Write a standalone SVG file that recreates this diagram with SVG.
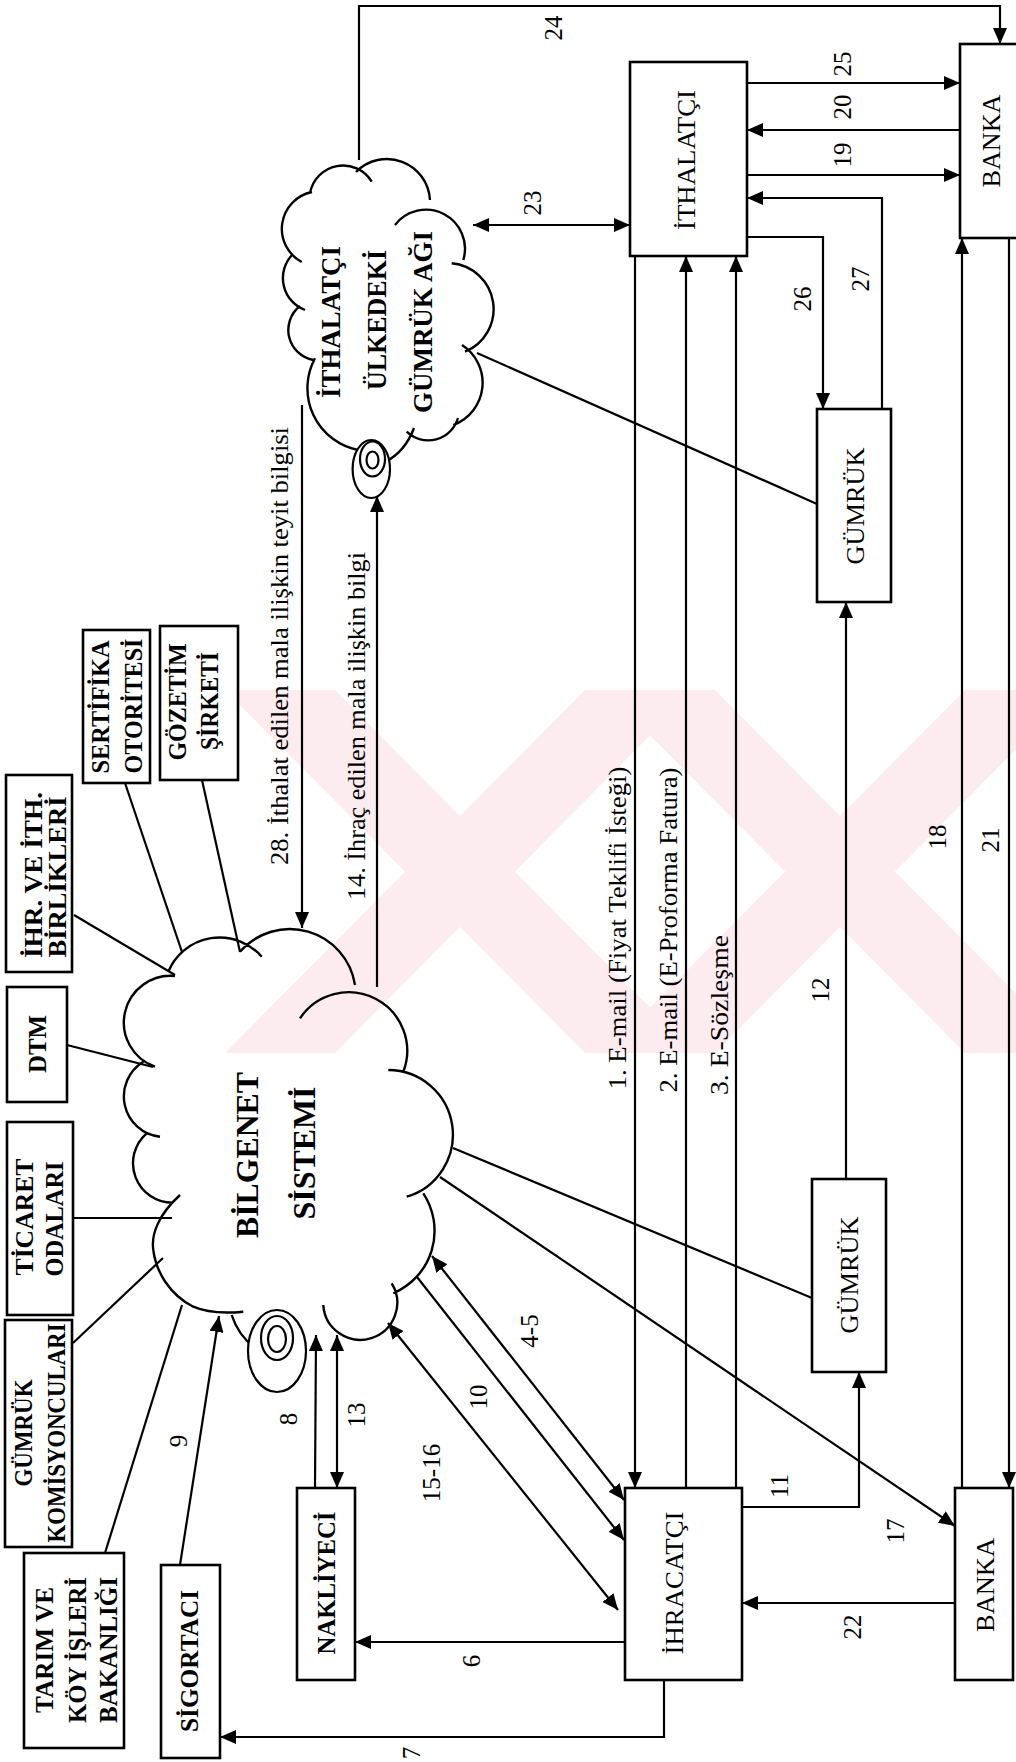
<svg xmlns="http://www.w3.org/2000/svg" width="1016" height="1762" viewBox="0 0 1016 1762">
<style>
.box{fill:#fff;stroke:#000;stroke-width:2.6}
.ln{fill:none;stroke:#000;stroke-width:2.2}
.cl{fill:none;stroke:#000;stroke-width:2.4}
.ic{fill:#fff;stroke:#000;stroke-width:2.2}
.t{font-family:"Liberation Serif","Times New Roman",serif;font-size:25px;fill:#000}
.b{font-weight:bold}
.wm{fill:#fdecef}
</style>
<defs>
<marker id="ah" markerWidth="16" markerHeight="14" refX="16" refY="7" orient="auto-start-reverse" markerUnits="userSpaceOnUse"><path d="M0,0 L16,7 L0,14 z" fill="#000"/></marker>
<clipPath id="wmclip"><rect x="0" y="690" width="1016" height="363"/></clipPath>
</defs>
<rect width="1016" height="1762" fill="#fff"/>
<g id="watermark" clip-path="url(#wmclip)">
<polygon class="wm" points="225,690 335,690 695,1053 585,1053"/>
<polygon class="wm" points="585,690 695,690 335,1053 225,1053"/>
<polygon class="wm" points="605,690 715,690 1075,1053 965,1053"/>
<polygon class="wm" points="965,690 1075,690 715,1053 605,1053"/>
</g>
<g id="connectors" class="ln">
<polyline points="359,160 359,6 1000,6 1000,44" marker-end="url(#ah)"/>
<line x1="747" y1="83" x2="960" y2="83" marker-end="url(#ah)"/>
<line x1="960" y1="130" x2="747" y2="130" marker-end="url(#ah)"/>
<line x1="747" y1="175" x2="960" y2="175" marker-end="url(#ah)"/>
<polyline points="882,409 882,198 747,198" marker-end="url(#ah)"/>
<polyline points="747,237 823,237 823,409" marker-end="url(#ah)"/>
<line x1="473" y1="225" x2="630" y2="225" marker-start="url(#ah)" marker-end="url(#ah)"/>
<line x1="477" y1="353" x2="817" y2="504"/>
<line x1="635" y1="256" x2="635" y2="1488" marker-end="url(#ah)"/>
<line x1="686" y1="1488" x2="686" y2="256" marker-end="url(#ah)"/>
<line x1="736" y1="1488" x2="736" y2="256" marker-end="url(#ah)"/>
<line x1="962" y1="1488" x2="962" y2="238" marker-end="url(#ah)"/>
<line x1="1009" y1="238" x2="1009" y2="1488" marker-end="url(#ah)"/>
<line x1="846" y1="1179" x2="846" y2="602" marker-end="url(#ah)"/>
<polyline points="742,1507 859,1507 859,1372" marker-end="url(#ah)"/>
<line x1="955" y1="1603" x2="742" y2="1603" marker-end="url(#ah)"/>
<line x1="440" y1="1177" x2="955" y2="1526" marker-end="url(#ah)"/>
<line x1="453" y1="1148" x2="812" y2="1298"/>
<line x1="432" y1="1256" x2="624" y2="1500" marker-start="url(#ah)" marker-end="url(#ah)"/>
<line x1="417" y1="1277" x2="624" y2="1540" marker-end="url(#ah)"/>
<line x1="388" y1="1323" x2="618" y2="1610" marker-start="url(#ah)" marker-end="url(#ah)"/>
<line x1="315" y1="1488" x2="316" y2="1335" marker-end="url(#ah)"/>
<line x1="337" y1="1335" x2="337" y2="1488" marker-start="url(#ah)" marker-end="url(#ah)"/>
<line x1="625" y1="1642" x2="355" y2="1642" marker-end="url(#ah)"/>
<polyline points="664,1680 664,1737 220,1737" marker-end="url(#ah)"/>
<line x1="180" y1="1565" x2="219" y2="1316" marker-end="url(#ah)"/>
<line x1="105" y1="1553" x2="182" y2="1305"/>
<line x1="73" y1="1343" x2="163" y2="1258"/>
<line x1="73" y1="1218" x2="172" y2="1218"/>
<line x1="67" y1="1045" x2="153" y2="1067"/>
<line x1="74" y1="915" x2="175" y2="975"/>
<line x1="125" y1="783" x2="182" y2="952"/>
<line x1="202" y1="780" x2="240" y2="952"/>
<line x1="302" y1="405" x2="302" y2="928" marker-end="url(#ah)"/>
<line x1="377" y1="987" x2="377" y2="496" marker-end="url(#ah)"/>
</g>
<g id="labels" class="t" text-anchor="middle" dominant-baseline="central">
<text transform="translate(553,28) rotate(-90)">24</text>
<text transform="translate(842,64) rotate(-90)">25</text>
<text transform="translate(842,107) rotate(-90)">20</text>
<text transform="translate(842,155) rotate(-90)">19</text>
<text transform="translate(532,203) rotate(-90)">23</text>
<text transform="translate(802,299) rotate(-90)">26</text>
<text transform="translate(860,279) rotate(-90)">27</text>
<text transform="translate(937,837) rotate(-90)">18</text>
<text transform="translate(990,840) rotate(-90)">21</text>
<text transform="translate(820,990) rotate(-90)">12</text>
<text transform="translate(779,1486) rotate(-90)">11</text>
<text transform="translate(895,1531) rotate(-90)">17</text>
<text transform="translate(852,1627) rotate(-90)">22</text>
<text transform="translate(529,1331) rotate(-90)">4-5</text>
<text transform="translate(478,1397) rotate(-90)">10</text>
<text transform="translate(431,1473) rotate(-90)">15-16</text>
<text transform="translate(288,1419) rotate(-90)">8</text>
<text transform="translate(356,1415) rotate(-90)">13</text>
<text transform="translate(178,1441) rotate(-90)">9</text>
<text transform="translate(471,1661) rotate(-90)">6</text>
<text transform="translate(411,1753) rotate(-90)">7</text>
<text transform="translate(279,646) rotate(-90)" textLength="438" lengthAdjust="spacingAndGlyphs">28. İthalat edilen mala ilişkin teyit bilgisi</text>
<text transform="translate(356,726) rotate(-90)" textLength="348" lengthAdjust="spacingAndGlyphs">14. İhraç edilen mala ilişkin bilgi</text>
<text transform="translate(617,928) rotate(-90)" textLength="323" lengthAdjust="spacingAndGlyphs">1. E-mail (Fiyat Teklifi İsteği)</text>
<text transform="translate(668,930) rotate(-90)" textLength="325" lengthAdjust="spacingAndGlyphs">2. E-mail (E-Proforma Fatura)</text>
<text transform="translate(719,1015) rotate(-90)" textLength="160" lengthAdjust="spacingAndGlyphs">3. E-Sözleşme</text>
</g>
<g id="bilgenet">
<path class="cl" d="M168.3,971.7 A55.6,55.6 0 0 1 261.7,956.7 M240,951.7 A66,66 0 0 1 355,985 M300,1018.3 A58.5,58.5 0 0 1 403.3,1071.7 M388.3,1070 A64.7,64.7 0 0 1 406.7,1196.7 M423.3,1193.3 A68,68 0 0 1 393.3,1293.3 M391.7,1283.3 A37,37 0 1 1 323.3,1305 M255,1348 Q238,1335 231.7,1315 M243.3,1311.7 C230,1313 210,1314 193.3,1306.7 C170,1295 156,1272 153.3,1250 C151,1235 158,1215 180,1195 M173.3,1202.7 A39.5,39.5 0 0 1 146.7,1133.3 M160,1136.7 A40.6,40.6 0 0 1 143.3,1061.7 M155,1066.7 A46.8,46.8 0 0 1 175,976"/>
<ellipse class="ic" cx="277" cy="1351" rx="29" ry="41"/>
<ellipse class="ic" cx="277" cy="1338" rx="16" ry="22"/>
<ellipse class="ic" cx="277" cy="1339" rx="9" ry="13" stroke-width="3.2"/>
<text class="t b" transform="translate(247,1155) rotate(-90)" text-anchor="middle" dominant-baseline="central" style="font-size:31px" textLength="166" lengthAdjust="spacingAndGlyphs">BİLGENET</text>
<text class="t b" transform="translate(304,1153) rotate(-90)" text-anchor="middle" dominant-baseline="central" style="font-size:31px" textLength="133" lengthAdjust="spacingAndGlyphs">SİSTEMİ</text>
</g>
<g id="gumruk-agi">
<path class="cl" d="M310,193.3 A33.5,33.5 0 0 1 371.7,181.7 M356,172 A43.2,43.2 0 0 1 430,200 M395,225 A39,39 0 0 1 463.3,260 M451.7,263.3 A46,46 0 0 1 465,351.7 M462,345 A45,45 0 0 1 453.3,425 M458,418 A31,31 0 0 1 406.7,431.7 M414,428 Q405,452 385,462 M358,450 A63,63 0 0 1 315,358.3 M313.3,360 A30.5,30.5 0 0 1 300,306 M305,310 A34,34 0 0 1 292,255 M301.7,262 A37.6,37.6 0 0 1 312,192"/>
<ellipse class="ic" cx="371.3" cy="469" rx="18.7" ry="29"/>
<ellipse class="ic" cx="372.5" cy="459" rx="12.5" ry="17.5"/>
<ellipse class="ic" cx="372.5" cy="460" rx="6" ry="8.5" stroke-width="3"/>
<g class="t b" text-anchor="middle" dominant-baseline="central" style="font-size:27px">
<text transform="translate(331,322) rotate(-90)" textLength="152" lengthAdjust="spacingAndGlyphs">İTHALATÇI</text>
<text transform="translate(377,320) rotate(-90)" textLength="140" lengthAdjust="spacingAndGlyphs">ÜLKEDEKİ</text>
<text transform="translate(423,322) rotate(-90)" textLength="182" lengthAdjust="spacingAndGlyphs">GÜMRÜK AĞI</text>
</g>
</g>
<g id="banka-ithalatci">
<rect class="box" x="960" y="44" width="70" height="194"/>
<text class="t" transform="translate(991,141) rotate(-90)" text-anchor="middle" dominant-baseline="central" textLength="93" lengthAdjust="spacingAndGlyphs">BANKA</text>
</g>
<g id="ithalatci">
<rect class="box" x="630" y="62" width="117" height="194"/>
<text class="t" transform="translate(686,160) rotate(-90)" text-anchor="middle" dominant-baseline="central" textLength="140" lengthAdjust="spacingAndGlyphs">İTHALATÇI</text>
</g>
<g id="gumruk-ithalat">
<rect class="box" x="817" y="409" width="74" height="193"/>
<text class="t" transform="translate(855,506) rotate(-90)" text-anchor="middle" dominant-baseline="central" textLength="117" lengthAdjust="spacingAndGlyphs">GÜMRÜK</text>
</g>
<g id="gumruk-ihracat">
<rect class="box" x="812" y="1179" width="74" height="193"/>
<text class="t" transform="translate(849,1275) rotate(-90)" text-anchor="middle" dominant-baseline="central" textLength="117" lengthAdjust="spacingAndGlyphs">GÜMRÜK</text>
</g>
<g id="ihracatci">
<rect class="box" x="625" y="1488" width="117" height="192"/>
<text class="t" transform="translate(674,1583) rotate(-90)" text-anchor="middle" dominant-baseline="central" textLength="143" lengthAdjust="spacingAndGlyphs">İHRACATÇI</text>
</g>
<g id="banka-ihracatci">
<rect class="box" x="955" y="1488" width="58" height="192"/>
<text class="t" transform="translate(985,1585) rotate(-90)" text-anchor="middle" dominant-baseline="central" textLength="94" lengthAdjust="spacingAndGlyphs">BANKA</text>
</g>
<g id="nakliyeci">
<rect class="box" x="297" y="1488" width="58" height="192"/>
<text class="t b" transform="translate(326,1583) rotate(-90)" text-anchor="middle" dominant-baseline="central" textLength="143" lengthAdjust="spacingAndGlyphs">NAKLİYECİ</text>
</g>
<g id="sigortaci">
<rect class="box" x="161" y="1565" width="59" height="193"/>
<text class="t b" transform="translate(189,1661) rotate(-90)" text-anchor="middle" dominant-baseline="central" textLength="142" lengthAdjust="spacingAndGlyphs">SİGORTACI</text>
</g>
<g id="tarim">
<rect class="box" x="24" y="1553" width="100" height="195"/>
<g class="t b" text-anchor="middle" dominant-baseline="central">
<text transform="translate(44,1650) rotate(-90)" textLength="126" lengthAdjust="spacingAndGlyphs">TARIM VE</text>
<text transform="translate(77,1650) rotate(-90)" textLength="146" lengthAdjust="spacingAndGlyphs">KÖY İŞLERİ</text>
<text transform="translate(108,1650) rotate(-90)" textLength="146" lengthAdjust="spacingAndGlyphs">BAKANLIĞI</text>
</g>
</g>
<g id="gumruk-komisyonculari">
<rect class="box" x="5" y="1320" width="67" height="227"/>
<g class="t b" text-anchor="middle" dominant-baseline="central">
<text transform="translate(23,1433) rotate(-90)" textLength="107" lengthAdjust="spacingAndGlyphs">GÜMRÜK</text>
<text transform="translate(56,1433) rotate(-90)" textLength="219" lengthAdjust="spacingAndGlyphs">KOMİSYONCULARI</text>
</g>
</g>
<g id="ticaret-odalari">
<rect class="box" x="7" y="1122" width="66" height="193"/>
<g class="t b" text-anchor="middle" dominant-baseline="central">
<text transform="translate(24,1217) rotate(-90)" textLength="117" lengthAdjust="spacingAndGlyphs">TİCARET</text>
<text transform="translate(54,1219) rotate(-90)" textLength="115" lengthAdjust="spacingAndGlyphs">ODALARI</text>
</g>
</g>
<g id="dtm">
<rect class="box" x="7" y="987" width="60" height="115"/>
<text class="t b" transform="translate(37,1044) rotate(-90)" text-anchor="middle" dominant-baseline="central" textLength="58" lengthAdjust="spacingAndGlyphs">DTM</text>
</g>
<g id="ihr-ith-birlikleri">
<rect class="box" x="6" y="775" width="66" height="197"/>
<g class="t b" text-anchor="middle" dominant-baseline="central">
<text transform="translate(33,875) rotate(-90)" textLength="166" lengthAdjust="spacingAndGlyphs">İHR. VE İTH.</text>
<text transform="translate(57,877) rotate(-90)" textLength="161" lengthAdjust="spacingAndGlyphs">BİRLİKLERİ</text>
</g>
</g>
<g id="sertifika">
<rect class="box" x="83" y="630" width="67" height="153"/>
<g class="t b" text-anchor="middle" dominant-baseline="central">
<text transform="translate(100,707) rotate(-90)" textLength="133" lengthAdjust="spacingAndGlyphs">SERTİFİKA</text>
<text transform="translate(133,706) rotate(-90)" textLength="135" lengthAdjust="spacingAndGlyphs">OTORİTESİ</text>
</g>
</g>
<g id="gozetim">
<rect class="box" x="160" y="626" width="78" height="154"/>
<g class="t b" text-anchor="middle" dominant-baseline="central">
<text transform="translate(177,702) rotate(-90)" textLength="117" lengthAdjust="spacingAndGlyphs">GÖZETİM</text>
<text transform="translate(209,701) rotate(-90)" textLength="98" lengthAdjust="spacingAndGlyphs">ŞİRKETİ</text>
</g>
</g>
</svg>
